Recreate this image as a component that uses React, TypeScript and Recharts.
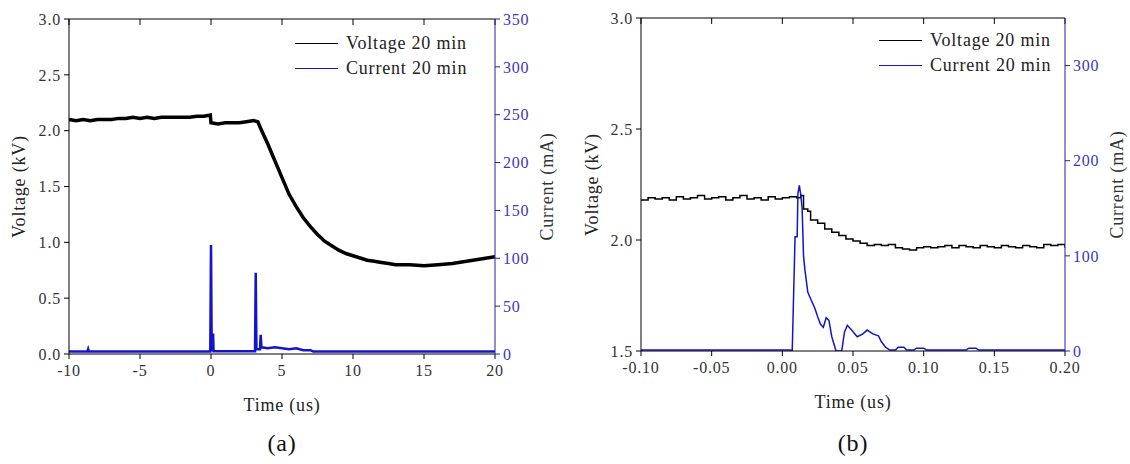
import React from 'react';
import { LineChart, Line, XAxis, YAxis, Label, Legend } from 'recharts';

// ---------- Panel (a) ----------
const A_TIME_V = [-10, -9.5, -9, -8.5, -8, -7.5, -7, -6.5, -6, -5.5, -5, -4.5, -4, -3.5, -3, -2.5, -2, -1.5, -1, -0.5, -0.05, 0, 0.5, 1, 1.5, 2, 2.5, 3, 3.3, 3.5, 4, 4.4, 5, 5.5, 6, 6.5, 7, 7.5, 8, 8.5, 9, 9.5, 10, 10.5, 11, 11.5, 12, 12.5, 13, 14, 15, 16, 17, 18, 19, 20];
const A_VOLT = [2.10, 2.09, 2.10, 2.09, 2.10, 2.10, 2.10, 2.11, 2.11, 2.12, 2.11, 2.12, 2.11, 2.12, 2.12, 2.12, 2.12, 2.12, 2.13, 2.13, 2.14, 2.07, 2.06, 2.07, 2.07, 2.07, 2.08, 2.09, 2.08, 2.02, 1.88, 1.76, 1.58, 1.43, 1.32, 1.22, 1.14, 1.07, 1.01, 0.97, 0.93, 0.90, 0.88, 0.86, 0.84, 0.83, 0.82, 0.81, 0.80, 0.80, 0.79, 0.80, 0.81, 0.83, 0.85, 0.87];
const A_TIME_I = [-10, -8.7, -8.65, -8.6, -0.05, 0, 0.05, 0.08, 0.15, 0.18, 3.1, 3.15, 3.2, 3.45, 3.5, 3.55, 4, 4.5, 5, 5.5, 6, 6.5, 7, 7.2, 20];
const A_CURR = [2.5, 2.5, 5, 2.5, 2.5, 114, 3, 20, 20, 3, 3, 85, 5, 5, 20, 7, 6, 7, 6, 5, 6, 4, 4, 2.5, 2.5];
const A_X_TICKS = [-10, -5, 0, 5, 10, 15, 20];
const A_V_TICKS = [0, 0.5, 1, 1.5, 2, 2.5, 3];
const A_I_TICKS = [0, 50, 100, 150, 200, 250, 300, 350];

// ---------- Panel (b) ----------
const B_TIME_V = [-0.1, -0.095, -0.09, -0.085, -0.08, -0.075, -0.07, -0.065, -0.06, -0.055, -0.05, -0.045, -0.04, -0.035, -0.03, -0.025, -0.02, -0.015, -0.01, -0.005, 0, 0.005, 0.01, 0.013, 0.015, 0.018, 0.02, 0.025, 0.03, 0.035, 0.04, 0.045, 0.05, 0.055, 0.06, 0.065, 0.07, 0.075, 0.08, 0.085, 0.09, 0.095, 0.1, 0.105, 0.11, 0.115, 0.12, 0.125, 0.13, 0.135, 0.14, 0.145, 0.15, 0.155, 0.16, 0.165, 0.17, 0.175, 0.18, 0.185, 0.19, 0.195, 0.2];
const B_VOLT = [2.18, 2.19, 2.185, 2.19, 2.18, 2.195, 2.185, 2.19, 2.2, 2.185, 2.19, 2.195, 2.18, 2.19, 2.2, 2.185, 2.19, 2.18, 2.195, 2.185, 2.19, 2.195, 2.19, 2.2, 2.14, 2.13, 2.09, 2.075, 2.05, 2.035, 2.02, 2.005, 1.995, 1.985, 1.975, 1.98, 1.975, 1.98, 1.965, 1.96, 1.955, 1.965, 1.97, 1.965, 1.97, 1.975, 1.965, 1.975, 1.97, 1.965, 1.975, 1.97, 1.965, 1.975, 1.97, 1.965, 1.975, 1.97, 1.965, 1.98, 1.975, 1.98, 1.965];
const B_TIME_I = [-0.1, 0.006, 0.007, 0.009, 0.0105, 0.011, 0.012, 0.013, 0.014, 0.015, 0.016, 0.018, 0.02, 0.023, 0.025, 0.027, 0.029, 0.031, 0.033, 0.035, 0.037, 0.038, 0.042, 0.044, 0.046, 0.049, 0.053, 0.057, 0.06, 0.064, 0.068, 0.07, 0.073, 0.076, 0.08, 0.082, 0.086, 0.088, 0.093, 0.095, 0.1, 0.102, 0.13, 0.132, 0.137, 0.139, 0.2];
const B_CURR = [1, 1, 0, 120, 120, 165, 174, 165, 150, 100, 85, 62, 55, 45, 36, 28, 25, 35, 32, 15, 5, 0, 0, 20, 27, 22, 15, 18, 22, 18, 16, 10, 4, 1, 1, 4, 4, 1, 1, 3, 3, 1, 1, 3, 3, 1, 1];
const B_X_TICKS = [-0.1, -0.05, 0, 0.05, 0.1, 0.15, 0.2];
const B_V_TICKS = [1.5, 2, 2.5, 3];
const B_I_TICKS = [0, 100, 200, 300];

const SERIES_NAMES = ['Voltage 20 min', 'Current 20 min'];
const VOLT_COLOR = '#000000';
const CURR_COLOR = '#1414c8';
const SERIES_COLORS = [VOLT_COLOR, CURR_COLOR];
const AXIS_BLUE = '#22229e';

const pair = (ts: number[], vs: number[]) => ts.map((t, i) => ({ t, y: vs[i] }));

const FONT = '"Liberation Serif", "DejaVu Serif", serif';

const LegendBox = () => (
  <div style={{ fontFamily: FONT, fontSize: 18, letterSpacing: '0.8px', color: '#222' }}>
    {SERIES_NAMES.map((name, i) => (
      <div key={name} style={{ display: 'flex', alignItems: 'center', height: 25 }}>
        <div style={{ width: 43, height: 0, borderTop: `1.6px solid ${SERIES_COLORS[i]}`, marginRight: 8 }} />
        <span style={{ whiteSpace: 'nowrap' }}>{name}</span>
      </div>
    ))}
  </div>
);

type PanelProps = {
  width: number;
  margin: any;
  xDomain: [number, number];
  xTicks: number[];
  xFmt: (v: number) => string;
  vDomain: [number, number];
  vTicks: number[];
  iTicks: number[];
  volt: { t: number; y: number }[];
  curr: { t: number; y: number }[];
  voltWidth: number;
  currWidth: number;
  voltType: any;
  legendPos: { top: number; left: number };
  leftLabelOffset: number;
  rightLabelOffset: number;
};

const tickStyle = (fill: string) => ({ fill, fontSize: 16, fontFamily: FONT });

const Panel = (p: PanelProps) => (
  <LineChart width={p.width} height={464} margin={p.margin} style={{ fontFamily: FONT }}>
    <XAxis
      xAxisId={0}
      type="number"
      dataKey="t"
      domain={p.xDomain}
      ticks={p.xTicks}
      interval={0}
      allowDataOverflow
      tickFormatter={p.xFmt}
      height={30}
      stroke="#000"
      tickSize={5}
      tickMargin={6}
      tick={tickStyle('#333')}
    >
      <Label value="Time (us)" position="bottom" offset={14} style={{ fill: '#222', fontSize: 18, fontFamily: FONT }} />
    </XAxis>
    {/* top frame with inward ticks */}
    <XAxis
      xAxisId="top"
      orientation="top"
      mirror
      type="number"
      dataKey="t"
      domain={p.xDomain}
      ticks={p.xTicks}
      allowDataOverflow
      interval={0}
      height={6}
      stroke="#000"
      tick={{ fontSize: 1, fill: 'none' }}
      tickFormatter={() => ''}
      tickSize={6}
    />
    <YAxis
      yAxisId="v"
      type="number"
      domain={p.vDomain}
      ticks={p.vTicks}
      interval={0}
      allowDataOverflow
      tickFormatter={(v: number) => v.toFixed(1)}
      width={50}
      stroke="#000"
      tickSize={5}
      tickMargin={3}
      tick={tickStyle('#333')}
    >
      <Label value="Voltage (kV)" angle={-90} position="insideLeft" offset={p.leftLabelOffset} style={{ textAnchor: 'middle', fill: '#222', fontSize: 18, fontFamily: FONT }} />
    </YAxis>
    <YAxis
      yAxisId="i"
      orientation="right"
      type="number"
      domain={[0, 350]}
      ticks={p.iTicks}
      interval={0}
      allowDataOverflow
      width={50}
      stroke={AXIS_BLUE}
      tickSize={5}
      tickMargin={3}
      tick={tickStyle('#3a3ab8')}
    >
      <Label value="Current (mA)" angle={-90} position="insideRight" offset={p.rightLabelOffset} style={{ textAnchor: 'middle', fill: '#333', fontSize: 18, fontFamily: FONT }} />
    </YAxis>
    <Legend
      layout="vertical"
      align="center"
      verticalAlign="middle"
      wrapperStyle={{ top: p.legendPos.top, left: p.legendPos.left, width: 'auto', height: 'auto' }}
      content={LegendBox}
    />
    {/* invisible series binding the top frame axis to the same data */}
    <Line
      xAxisId="top"
      yAxisId="v"
      data={p.volt}
      dataKey="y"
      stroke="none"
      strokeWidth={0}
      dot={false}
      activeDot={false}
      legendType="none"
      isAnimationActive={false}
    />
    <Line
      name={SERIES_NAMES[0]}
      data={p.volt}
      dataKey="y"
      yAxisId="v"
      type={p.voltType}
      stroke={VOLT_COLOR}
      strokeWidth={p.voltWidth}
      dot={false}
      isAnimationActive={false}
    />
    <Line
      name={SERIES_NAMES[1]}
      data={p.curr}
      dataKey="y"
      yAxisId="i"
      type="linear"
      stroke={CURR_COLOR}
      strokeWidth={p.currWidth}
      dot={false}
      isAnimationActive={false}
    />
  </LineChart>
);

export default function App() {
  return (
    <div style={{ position: 'absolute', left: 0, top: 0, width: 1130, height: 464, background: '#fff', fontFamily: FONT, letterSpacing: '0.8px' }}>
      <div style={{ position: 'absolute', left: 0, top: 0 }}>
        <Panel
          width={560}
          margin={{ top: 19, right: 15, bottom: 80, left: 19 }}
          xDomain={[-10, 20]}
          xTicks={A_X_TICKS}
          xFmt={(v: number) => String(v)}
          vDomain={[0, 3]}
          vTicks={A_V_TICKS}
          iTicks={A_I_TICKS}
          volt={pair(A_TIME_V, A_VOLT)}
          curr={pair(A_TIME_I, A_CURR)}
          voltWidth={3.5}
          currWidth={2.5}
          voltType="linear"
          legendPos={{ top: 31, left: 295 }}
          leftLabelOffset={0}
          rightLabelOffset={-2}
        />
      </div>
      <div style={{ position: 'absolute', left: 565, top: 0 }}>
        <Panel
          width={565}
          margin={{ top: 18, right: 15, bottom: 83, left: 26 }}
          xDomain={[-0.1, 0.2]}
          xTicks={B_X_TICKS}
          xFmt={(v: number) => v.toFixed(2)}
          vDomain={[1.5, 3]}
          vTicks={B_V_TICKS}
          iTicks={B_I_TICKS}
          volt={pair(B_TIME_V, B_VOLT)}
          curr={pair(B_TIME_I, B_CURR)}
          voltWidth={1.5}
          currWidth={1.5}
          voltType="stepAfter"
          legendPos={{ top: 28, left: 314 }}
          leftLabelOffset={1}
          rightLabelOffset={-2}
        />
      </div>
      <div style={{ position: 'absolute', left: 232, top: 428, width: 100, textAlign: 'center', fontSize: 24, lineHeight: '30px', color: '#111' }}>(a)</div>
      <div style={{ position: 'absolute', left: 803, top: 428, width: 100, textAlign: 'center', fontSize: 24, lineHeight: '30px', color: '#111' }}>(b)</div>
    </div>
  );
}
